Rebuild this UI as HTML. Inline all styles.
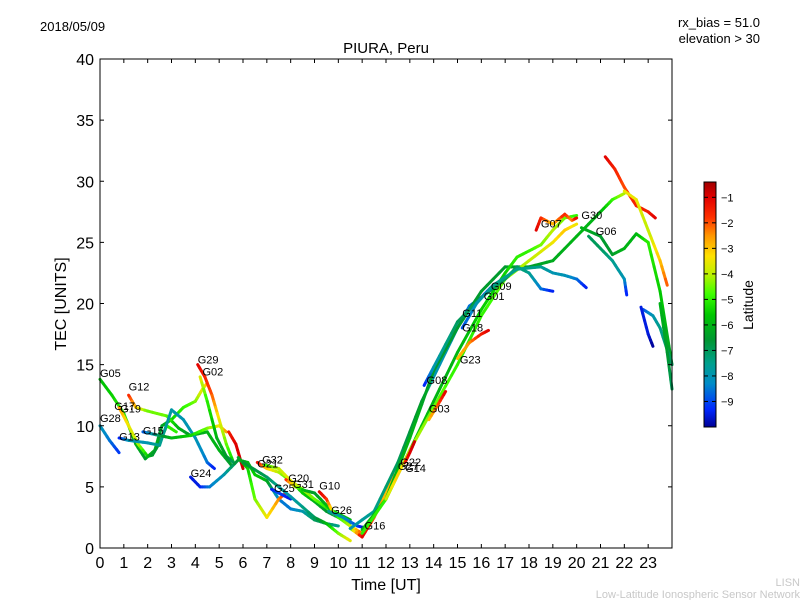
<!DOCTYPE html>
<html><head><meta charset="utf-8">
<style>
body{margin:0;background:#fff;}
svg{display:block;font-family:"Liberation Sans","DejaVu Sans",sans-serif;}
</style></head>
<body>
<svg id="chart" width="800" height="600" viewBox="0 0 800 600">
<defs>
<linearGradient id="cmap" x1="0" y1="1" x2="0" y2="0"></linearGradient>
</defs>
<text x="40" y="31" font-size="13">2018/05/09</text>
<text x="760" y="27" font-size="13" text-anchor="end">rx_bias = 51.0</text>
<text x="760" y="43" font-size="13" text-anchor="end">elevation &gt; 30</text>
<text x="386" y="53" font-size="15" text-anchor="middle">PIURA, Peru</text>
<g id="tracks"></g>
<g id="labels"></g>
<rect x="100" y="59" width="572" height="489" fill="none" stroke="#000" stroke-width="1"/>
<g id="axes"></g>
<text x="386" y="590" font-size="16" text-anchor="middle">Time [UT]</text>
<text x="66" y="304" font-size="16" text-anchor="middle" transform="rotate(-90 66 304)">TEC [UNITS]</text>
<rect x="704" y="182" width="12" height="245" fill="url(#cmap)" stroke="#000" stroke-width="1"/>
<g id="cbar"></g>
<text x="753" y="305" font-size="14" text-anchor="middle" transform="rotate(-90 753 305)">Latitude</text>
<text x="800" y="586" font-size="11" fill="#c8c8c8" text-anchor="end">LISN</text>
<text x="800" y="598" font-size="11" fill="#c8c8c8" text-anchor="end">Low-Latitude Ionospheric Sensor Network</text>
</svg>
<script>
const xTicks=[0,1,2,3,4,5,6,7,8,9,10,11,12,13,14,15,16,17,18,19,20,21,22,23];
const yTicks=[0,5,10,15,20,25,30,35,40];
const cbarTicks=[-1,-2,-3,-4,-5,-6,-7,-8,-9];
// each track: [time, tec, latitude]
const trackG05=[[0,13.8,-5.8],[0.5,12.5,-5.5],[1,11,-5],[1.5,8.5,-6],[1.9,7.3,-6.5],[2.3,8,-6],[2.6,10,-6.5],[3,10.5,-5.5],[3.5,11.5,-5],[4,12,-4.5],[4.3,13,-3.5],[4.5,13.5,-3]];
const trackG12=[[1.2,12.5,-1.5],[1.5,11.5,-3],[2,11.2,-4.5],[2.8,10.8,-4.5],[3.3,9.8,-6],[3.8,9.2,-6.5],[4.5,9.5,-6],[5,8,-6],[5.5,6.8,-6.5]];
const trackG17=[[0.8,11.5,-2.5],[1.2,10,-3.5],[1.6,8.5,-4],[2,7.5,-5.5],[2.2,7.6,-6.5],[2.5,8.6,-6.5],[2.8,10,-5],[3.2,9.5,-5]];
const trackG28=[[0,10,-8],[0.4,8.8,-8.5],[0.8,7.8,-9.2]];
const trackG13=[[0.8,9,-9.5],[1.2,8.8,-8],[2,8.6,-8],[2.5,8.4,-7.5],[3,11.3,-7.8],[3.5,10.5,-8],[4,9,-8],[4.5,7,-8.5],[4.8,6.5,-9.5]];
const trackG15=[[1.8,9.5,-9],[2.5,9.2,-7],[3,9,-6],[3.8,9.2,-5.5],[4.5,9.8,-4.5],[5,10,-3.5],[5.3,9.5,-2.5]];
const trackG29=[[4.1,15,-1],[4.4,14,-1.5],[4.7,12.5,-2],[5,10.5,-3.5],[5.3,8.5,-4.5],[5.6,7,-5.5]];
const trackG02=[[4.2,14,-3.5],[4.5,12,-5],[4.9,9,-6],[5.3,7.5,-6.5],[5.6,7,-7]];
const trackRed5=[[5.4,9.5,-1.5],[5.7,8.5,-1],[6,6.5,-0.8]];
const trackG24=[[3.8,5.8,-9.5],[4.2,5,-9.5],[4.6,5,-8.5],[5.2,6,-8],[5.8,7.2,-6.5],[6.2,7,-6],[6.5,6,-5.5],[7,5.5,-6],[7.5,4,-8.5],[8,3.2,-8.5],[8.5,3,-8],[9,2.3,-7],[9.5,2,-7],[10,1.8,-7.5]];
const trackGreen6=[[5.8,7.4,-6.5],[6.2,6.5,-5.5],[6.5,4,-4.5],[7,2.5,-3.5],[7.5,4,-2.5],[7.8,4.5,-1.5]];
const trackG21=[[6.6,7,-1],[7,6.5,-3],[7.5,6.2,-4],[8,5.5,-5],[8.5,4.5,-5.5],[9,3.8,-6],[9.5,3,-6.5],[10,2.5,-7],[10.5,2,-7.5]];
const trackG32=[[6.9,6.8,-5],[7.5,6.5,-4],[8,5.5,-3.5],[8.5,4.8,-4],[9,4,-4.5],[9.5,3.3,-5],[10,2.8,-5.5],[10.5,2.3,-6]];
const trackG25=[[7.2,4.8,-9.5],[7.5,4.5,-9],[8,4,-9.5]];
const trackG20=[[7.8,5.6,-1.5],[8.2,5,-4],[8.6,4.7,-6],[9,4.5,-6.5],[9.5,3.5,-6],[10,2.5,-5],[10.5,1.8,-4],[11,1.2,-2]];
const trackG10=[[9.2,4.6,-1],[9.5,4,-1.5],[9.8,2.8,-4]];
const trackG26=[[9.6,3,-7.5],[10.2,2.5,-8],[10.8,1.8,-9],[11.2,1.6,-10]];
const trackLow=[[6,7,-6.5],[7,5.8,-7],[8,4.2,-8],[9,2.5,-7],[9.5,2,-6],[10,1.2,-4.5],[10.5,0.6,-3.5]];
const trackG16=[[10.5,1.6,-5],[11,0.9,-1],[11.5,2.5,-2],[12,4.5,-3],[12.3,6,-2.5]];
const trackRise1=[[10.5,1.6,-8],[11.5,3,-7.5],[12.5,7,-7],[13.5,12,-6.5],[14,14,-8],[15,18,-8],[15.5,19.8,-8.5],[16,20.5,-9],[16.5,21.5,-9.5]];
const trackRise2=[[11,1.5,-6],[12,4,-6],[13,9,-6],[14,14.5,-6.5],[15,18,-6.5],[16,21,-6.5],[17,23,-6.5],[18,23,-6.5],[19,23.5,-6.2],[20,25.5,-6],[21,27.5,-6],[21.5,28.5,-5],[22,29,-4]];
const trackRise3=[[11,1.2,-5],[12,4,-5],[13,8,-5.5],[14,12,-6],[15,16,-6],[16,19.5,-5.5],[17,22.5,-5.5],[17.5,23.8,-5],[18,24.3,-5],[18.5,24.8,-4.5],[19,26,-4],[19.5,27,-4.5],[20,27.2,-5]];
const trackG22=[[12,4,-4],[12.5,6,-3],[13,8,-4],[14,11.5,-4.5],[15,15,-5],[16,19,-5],[17,22,-4.5],[18,23.5,-4],[19,25,-3.5],[19.5,26,-3],[20,26.5,-3.5]];
const trackG14=[[12.8,7,-1.5],[13,7.8,-1],[13.2,8.7,-0.8]];
const trackG08=[[13.6,13.3,-9.5],[14,14.8,-8],[15,18.5,-7],[16,20.5,-7],[17,22,-7],[17.5,23,-7],[18,22.5,-7.5],[18.5,21.2,-8.5],[19,21,-9.5]];
const trackG03=[[13.8,10.5,-3],[14.2,11.8,-2],[14.5,12.8,-1]];
const trackG23=[[15,15.5,-3],[15.5,16.8,-2.5],[16,17.5,-1.5],[16.3,17.8,-1]];
const trackG11=[[15.2,18,-9],[15.8,20,-8],[16.5,21.5,-7.5],[17.5,22.8,-7.5],[18.5,23,-7.5],[19,22.5,-8],[19.5,22.3,-8],[20,22,-8.5],[20.4,21.3,-9.5]];
const trackG07=[[18.3,26,-1],[18.5,27,-1.5],[19,26.5,-3],[19.5,27.3,-1.5],[19.8,26.8,-2.5],[20,27,-1]];
const trackTop=[[21.2,32,-1],[21.6,31,-1.5],[22,29.5,-2],[22.5,28,-1.5],[23,27.5,-1.5],[23.3,27,-1]];
const trackYellow=[[22,29.2,-3.5],[22.5,28.5,-3.5],[23,26,-4],[23.5,23.5,-3],[23.8,21.5,-2]];
const trackG06=[[20.5,25.5,-7],[21,24.5,-7],[21.5,23.5,-7.5],[22,22,-8],[22.1,20.7,-9.5]];
const trackG30=[[20.2,26.2,-6],[21,25.5,-6.5],[21.5,24,-6.5],[22,24.5,-6],[22.5,25.7,-6],[23,25,-5],[23.5,21,-5.5],[24,15,-6.5]];
const trackBlue23=[[22.8,19.5,-9],[23.2,19,-8],[23.5,18,-7.5],[24,15,-7]];
const trackBlue22=[[22.7,19.7,-9.5],[23,17.5,-9.5],[23.2,16.5,-10]];
const trackEnd=[[23.5,20,-6],[23.8,16,-6.5],[24,13,-7]];
const tracks=[trackG05,trackG12,trackG17,trackG28,trackG13,trackG15,trackG29,trackG02,trackRed5,trackG24,trackGreen6,trackG21,trackG32,trackG25,trackG20,trackG10,trackG26,trackLow,trackG16,trackRise1,trackRise2,trackRise3,trackG22,trackG14,trackG08,trackG03,trackG23,trackG11,trackG07,trackTop,trackYellow,trackG06,trackG30,trackBlue23,trackBlue22,trackEnd];
const labelNames=["G05","G12","G17","G19","G28","G13","G15","G29","G02","G24","G21","G32","G25","G20","G31","G10","G26","G16","G27","G22","G14","G08","G03","G23","G18","G11","G01","G09","G07","G30","G06"];
const labelTimes=[0,1.2,0.6,0.85,0,0.8,1.8,4.1,4.3,3.8,6.6,6.8,7.3,7.9,8.1,9.2,9.7,11.1,12.5,12.6,12.8,13.7,13.8,15.1,15.2,15.2,16.1,16.4,18.5,20.2,20.8];
const labelTecs=[14,12.9,11.3,11.1,10.3,8.8,9.3,15.1,14.1,5.8,6.6,6.9,4.6,5.4,4.9,4.8,2.8,1.5,6.4,6.7,6.2,13.4,11.1,15.1,17.7,18.9,20.3,21.1,26.2,26.9,25.6];
const latMin=-10,latMax=-0.4;
const cmapStops=[[-10,[0,0,150]],[-9.3,[0,40,255]],[-8.3,[0,140,200]],[-7.5,[0,160,140]],[-6.6,[0,150,50]],[-5.6,[0,200,0]],[-4.8,[60,255,0]],[-4,[190,240,0]],[-3.3,[255,225,0]],[-2.5,[255,150,0]],[-1.8,[255,50,0]],[-1,[225,0,0]],[-0.4,[160,0,0]]];
const sx=t=>100+t*572/24, sy=v=>548-v*489/40;
const NS="http://www.w3.org/2000/svg";
function cmap(lat){lat=Math.max(latMin,Math.min(latMax,lat));for(let i=0;i<cmapStops.length-1;i++){const a=cmapStops[i],b=cmapStops[i+1];if(lat<=b[0]){const f=(lat-a[0])/(b[0]-a[0]);const c=a[1].map((v,k)=>Math.round(v+(b[1][k]-v)*f));return `rgb(${c[0]},${c[1]},${c[2]})`;}}return 'rgb(160,0,0)';}
const grad=document.getElementById('cmap');
cmapStops.forEach(s=>{const st=document.createElementNS(NS,'stop');st.setAttribute('offset',(s[0]-latMin)/(latMax-latMin));st.setAttribute('stop-color',`rgb(${s[1].join(',')})`);grad.appendChild(st);});
const gT=document.getElementById('tracks');
tracks.forEach((tr,ti)=>{for(let i=0;i<tr.length-1;i++){const a=tr[i],b=tr[i+1];const n=4;for(let k=0;k<n;k++){const f0=k/n,f1=(k+1)/n;const l=document.createElementNS(NS,'line');


l.setAttribute('x1',sx(a[0]+(b[0]-a[0])*f0));l.setAttribute('y1',sy(a[1]+(b[1]-a[1])*f0));l.setAttribute('x2',sx(a[0]+(b[0]-a[0])*f1));l.setAttribute('y2',sy(a[1]+(b[1]-a[1])*f1));l.setAttribute('stroke',cmap(a[2]+(b[2]-a[2])*(f0+f1)/2));l.setAttribute('stroke-width','3');l.setAttribute('stroke-linecap','round');gT.appendChild(l);}}});
const gL=document.getElementById('labels');
labelNames.forEach((nm,i)=>{const t=document.createElementNS(NS,'text');


t.setAttribute('x',sx(labelTimes[i]));t.setAttribute('y',sy(labelTecs[i]));t.setAttribute('font-size','11');t.textContent=nm;gL.appendChild(t);});
const gA=document.getElementById('axes');
function mk(tag,attrs){const e=document.createElementNS(NS,tag);for(const k in attrs)e.setAttribute(k,attrs[k]);return e;}
xTicks.forEach(v=>{const x=sx(v);gA.appendChild(mk('line',{x1:x,y1:548,x2:x,y2:544,stroke:'#000'}));gA.appendChild(mk('line',{x1:x,y1:59,x2:x,y2:63,stroke:'#000'}));const t=mk('text',{x:x,y:568,'font-size':'16','text-anchor':'middle'});


t.textContent=v;gA.appendChild(t);});
yTicks.forEach(v=>{const y=sy(v);gA.appendChild(mk('line',{x1:100,y1:y,x2:104,y2:y,stroke:'#000'}));gA.appendChild(mk('line',{x1:672,y1:y,x2:668,y2:y,stroke:'#000'}));const t=mk('text',{x:94,y:y+6,'font-size':'16','text-anchor':'end'});


t.textContent=v;gA.appendChild(t);});
const gC=document.getElementById('cbar');
cbarTicks.forEach(v=>{const y=427-(v-latMin)*245/(latMax-latMin);gC.appendChild(mk('line',{x1:716,y1:y,x2:712,y2:y,stroke:'#000'}));gC.appendChild(mk('line',{x1:704,y1:y,x2:708,y2:y,stroke:'#000'}));const t=mk('text',{x:721,y:y+4,'font-size':'11'});


t.textContent='\u2212'+Math.abs(v);gC.appendChild(t);});
</script>
</body></html>
